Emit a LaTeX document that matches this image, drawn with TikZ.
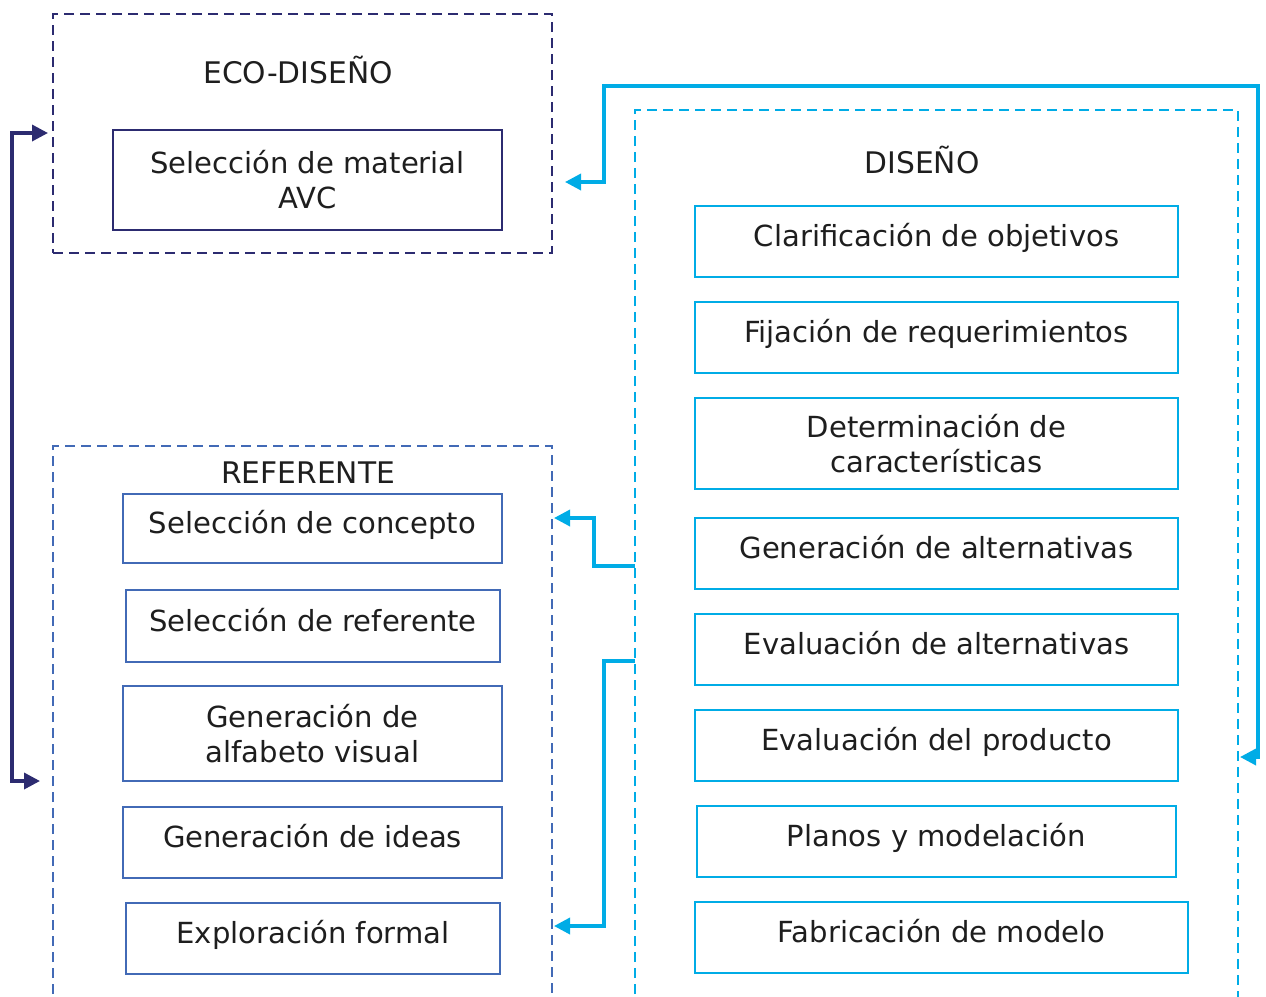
\documentclass[tikz,border=0pt]{standalone}
\usepackage{fontspec}
\setmainfont{DejaVu Sans}
\usetikzlibrary{arrows.meta}

\definecolor{navy}{RGB}{44,43,112}
\definecolor{celeste}{RGB}{0,172,230}
\definecolor{azulref}{RGB}{66,106,182}
\definecolor{texto}{RGB}{30,30,30}

\tikzset{every picture/.style={line width=0.75pt},
  marco/.style={dash pattern=on 7.5pt off 4.5pt, line width=2pt},
  caja/.style={draw, line width=1.5pt, inner sep=0pt, align=center, text=texto,
    font=\fontsize{21.8}{26.25}\selectfont},
  cajauna/.style={caja, text height=16pt, text depth=8pt},
  titulo/.style={anchor=base, inner sep=0pt, text=texto, font=\fontsize{22.3}{26.25}\selectfont},
  flecha/.style={line width=2.6pt, line join=miter},
  punta/.tip={Triangle[length=12pt, width=12pt]}
}

\begin{document}
\begin{tikzpicture}[x=0.75pt,y=0.75pt,yscale=-1,xscale=1]
\useasboundingbox (0,0) rectangle (1266,996);
\clip (0,0) rectangle (1266,996);

%Shape: Rectangle [eco]
\node [draw=navy, marco, minimum width=374.25pt, minimum height=179.25pt, inner sep=0pt] (eco) at (302.5,133.5) {};
%Shape: Rectangle open [diseno]
\draw [color=celeste, marco] (635,1010) |- (1238,110) -- (1238,1010) ;
%Shape: Rectangle open [referente]
\draw [color=azulref, marco] (53,1010) |- (552,446) -- (552,1010) ;

% Text Node
\node [titulo] (ecotit) at (298,83) {ECO-DISEÑO};
\node [titulo] (distit) at (922,173) {DISEÑO};
\node [titulo] (reftit) at (308,483) {REFERENTE};

%Shape: Rectangle [material]
\node [caja, draw=navy, minimum width=291.75pt, minimum height=75pt] (material) at (307.5,180) {Selección de material\\AVC};

%Shapes: Rectangles [diseno]
\node [cajauna, draw=celeste, minimum width=362.25pt, minimum height=53.25pt] (objetivos) at (936.5,241.5) {Clarificación de objetivos};
\node [cajauna, draw=celeste, minimum width=362.25pt, minimum height=53.25pt] (requer) at (936.5,337.5) {Fijación de requerimientos};
\node [caja, draw=celeste, minimum width=362.25pt, minimum height=68.25pt] (caract) at (936.5,443.5) {Determinación de\\características};
\node [cajauna, draw=celeste, minimum width=362.25pt, minimum height=53.25pt] (genalt) at (936.5,553.5) {Generación de alternativas};
\node [cajauna, draw=celeste, minimum width=362.25pt, minimum height=53.25pt] (evalt) at (936.5,649.5) {Evaluación de alternativas};
\node [cajauna, draw=celeste, minimum width=362.25pt, minimum height=53.25pt] (evprod) at (936.5,745.5) {Evaluación del producto};
\node [cajauna, draw=celeste, minimum width=359.25pt, minimum height=53.25pt] (planos) at (936.5,841.5) {Planos y modelación};
\node [cajauna, draw=celeste, minimum width=369.75pt, minimum height=53.25pt] (fabric) at (941.5,937.5) {Fabricación de modelo};

%Shapes: Rectangles [referente]
\node [cajauna, draw=azulref, minimum width=284.25pt, minimum height=51.75pt] (concepto) at (312.5,528.5) {Selección de concepto};
\node [cajauna, draw=azulref, minimum width=280.5pt, minimum height=54pt] (selref) at (313,626) {Selección de referente};
\node [caja, draw=azulref, minimum width=284.25pt, minimum height=71.25pt] (alfabeto) at (312.5,733.5) {Generación de\\alfabeto visual};
\node [cajauna, draw=azulref, minimum width=284.25pt, minimum height=53.25pt] (ideas) at (312.5,842.5) {Generación de ideas};
\node [cajauna, draw=azulref, minimum width=280.5pt, minimum height=53.25pt] (explor) at (313,938.5) {Exploración formal};

% Connector ends
\coordinate (ecoizq) at (48,133);
\coordinate (refizq) at (40,781);
\coordinate (ecoder) at (565,182);
\coordinate (disder) at (1240,757);
\coordinate (disa) at (635,566);
\coordinate (refa) at (554,518);
\coordinate (disb) at (635,661);
\coordinate (refb) at (554,926);

%Connectors
\draw [flecha, navy, punta-punta] (ecoizq) -- ++(-36,0) |- (refizq) ;
\draw [flecha, celeste, punta-punta] (ecoder) -| (604,86) -| (1258,757) -- (disder) ;
\draw [flecha, celeste, -punta] (disa) -| (594,518) -- (refa) ;
\draw [flecha, celeste, -punta] (disb) -| (604,926) -- (refb) ;

\end{tikzpicture}
\end{document}
